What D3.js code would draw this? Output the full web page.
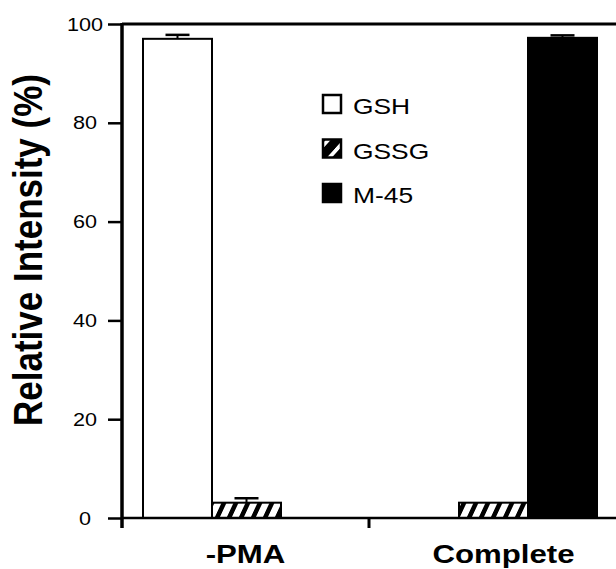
<!DOCTYPE html>
<head>
  <meta charset="utf-8">
  <title>Relative Intensity</title>
</head>
<style>
  body { margin: 0; background: #fff; }
  text { font-family: "Liberation Sans", Arial, sans-serif; fill: #000; }
  .tick_label { font-size: 18px; }
  .x_label { font-size: 26px; font-weight: bold; }
  .y_title { font-size: 35px; font-weight: bold; }
  .legend_text { font-size: 22px; }
</style>
<body>
  <svg id="chart" width="616" height="569"></svg>
<script src="https://cdn.jsdelivr.net/npm/d3@7"></script>
<script>
  // data
  var groups = ["-PMA", "Complete"];
  var series = ["GSH", "GSSG", "M-45"];
  var gsh = [97.0, 0];
  var gssg = [3.1, 3.1];
  var m45 = [0, 97.2];
  var gshErr = [0.8, 0];
  var gssgErr = [0.9, 0];
  var m45Err = [0, 0.5];
  var yTicks = [0, 20, 40, 60, 80, 100];

  var values = { "GSH": gsh, "GSSG": gssg, "M-45": m45 };
  var errors = { "GSH": gshErr, "GSSG": gssgErr, "M-45": m45Err };

  var svg = d3.select("#chart");
  // note: "top" is taken by window.top, so plot edges get their own names
  var plotLeft = 122, plotRight = 616, plotTop = 24, plotBottom = 518;

  var defs = svg.append("defs");
  defs.append("pattern")
      .attr("id", "hatch")
      .attr("patternUnits", "userSpaceOnUse")
      .attr("width", 12).attr("height", 13)
      .attr("patternTransform", "skewX(-25)")
    .call(function(p) {
      p.append("rect").attr("width", 12).attr("height", 13).attr("fill", "#fff");
      p.append("rect").attr("width", 5).attr("height", 13).attr("fill", "#000");
    });
  defs.append("pattern")
      .attr("id", "hatchLegend")
      .attr("patternUnits", "userSpaceOnUse")
      .attr("width", 17).attr("height", 20)
      .attr("patternTransform", "translate(322,0) skewX(-42)")
    .call(function(p) {
      p.append("rect").attr("width", 17).attr("height", 20).attr("fill", "#000");
      p.append("rect").attr("x", 6).attr("width", 5).attr("height", 20).attr("fill", "#fff");
    });

  var fills = { "GSH": "#fff", "GSSG": "url(#hatch)", "M-45": "#000" };
  var legendFills = { "GSH": "#fff", "GSSG": "url(#hatchLegend)", "M-45": "#000" };

  var x0 = d3.scaleBand().domain(groups).range([plotLeft, plotRight]);
  var x1 = d3.scaleBand().domain(series).range([21, 228]);
  var y = d3.scaleLinear().domain([0, 100]).range([plotBottom, plotTop]);

  var rows = [];
  groups.forEach(function(g, gi) {
    series.forEach(function(s) {
      rows.push({ group: g, series: s, value: values[s][gi], err: errors[s][gi] });
    });
  });

  // bars
  var bars = rows.filter(d => d.value > 0);
  svg.selectAll(".bar")
      .data(bars)
    .enter().append("rect")
      .attr("class", "bar")
      .attr("x", d => x0(d.group) + x1(d.series))
      .attr("y", d => y(d.value))
      .attr("width", x1.bandwidth())
      .attr("height", d => y(0) - y(d.value))
      .attr("fill", d => fills[d.series])
      .attr("stroke", "#000")
      .attr("stroke-width", 2);

  // error bars (upper only)
  var errs = bars.filter(d => d.err > 0);
  var errG = svg.selectAll(".err")
      .data(errs)
    .enter().append("g")
      .attr("class", "err")
      .attr("transform", d => "translate(" + (x0(d.group) + x1(d.series) + x1.bandwidth() / 2) + ",0)");
  errG.append("line")
      .attr("y1", d => y(d.value)).attr("y2", d => y(d.value + d.err))
      .attr("stroke", "#000").attr("stroke-width", 2);
  errG.append("line")
      .attr("x1", -12).attr("x2", 12)
      .attr("y1", d => y(d.value + d.err)).attr("y2", d => y(d.value + d.err))
      .attr("stroke", "#000").attr("stroke-width", 2.5);

  // axes
  var yAxis = d3.axisLeft(y).tickValues(yTicks).tickSize(14).tickFormat("");
  svg.append("g")
      .attr("class", "y")
      .attr("transform", "translate(" + plotLeft + ",0)")
      .call(yAxis)
      .call(g => g.select(".domain").remove())
      .call(g => g.selectAll(".tick line").attr("stroke-width", 2.5));
  svg.append("line")
      .attr("x1", plotLeft).attr("x2", plotLeft)
      .attr("y1", plotTop - 1).attr("y2", plotBottom + 10)
      .attr("stroke", "#000").attr("stroke-width", 3.5);
  svg.append("line")
      .attr("x1", plotLeft).attr("x2", 616)
      .attr("y1", plotTop).attr("y2", plotTop)
      .attr("stroke", "#000").attr("stroke-width", 3);
  svg.append("line")
      .attr("x1", plotLeft).attr("x2", 616)
      .attr("y1", plotBottom).attr("y2", plotBottom)
      .attr("stroke", "#000").attr("stroke-width", 2.5);
  // group separator tick
  svg.append("line")
      .attr("x1", x0(groups[1])).attr("x2", x0(groups[1]))
      .attr("y1", plotBottom).attr("y2", plotBottom + 10)
      .attr("stroke", "#000").attr("stroke-width", 3);

  svg.selectAll(".tick_label")
      .data(yTicks)
    .enter().append("text")
      .attr("class", "tick_label")
      .attr("text-anchor", "middle")
      .attr("transform", d => "translate(85," + (y(d) + 6.5) + ") scale(1.2,1)")
      .text(d => d);

  svg.selectAll(".x_label")
      .data(groups)
    .enter().append("text")
      .attr("class", "x_label")
      .attr("text-anchor", "middle")
      .attr("transform", (d, i) => "translate(" + (x0(d) + x0.bandwidth() / 2 + (i ? 11 : 0)) + ",563) scale(1.2,1)")
      .text(d => d);

  svg.append("text")
      .attr("class", "y_title")
      .attr("text-anchor", "middle")
      .attr("transform", "translate(42,250) scale(1.15,1) rotate(-90)")
      .text("Relative Intensity (%)");

  // legend
  var legend = svg.selectAll(".legend")
      .data(series)
    .enter().append("g")
      .attr("class", "legend")
      .attr("transform", (d, i) => "translate(322," + (94 + i * 44.5) + ")");
  legend.append("rect")
      .attr("x", 1).attr("y", 1)
      .attr("width", 18).attr("height", 18)
      .attr("fill", d => legendFills[d])
      .attr("stroke", "#000").attr("stroke-width", 2.5);
  legend.append("text")
      .attr("class", "legend_text")
      .attr("transform", "translate(31,20) scale(1.2,1)")
      .text(d => d);
</script>
</body>
